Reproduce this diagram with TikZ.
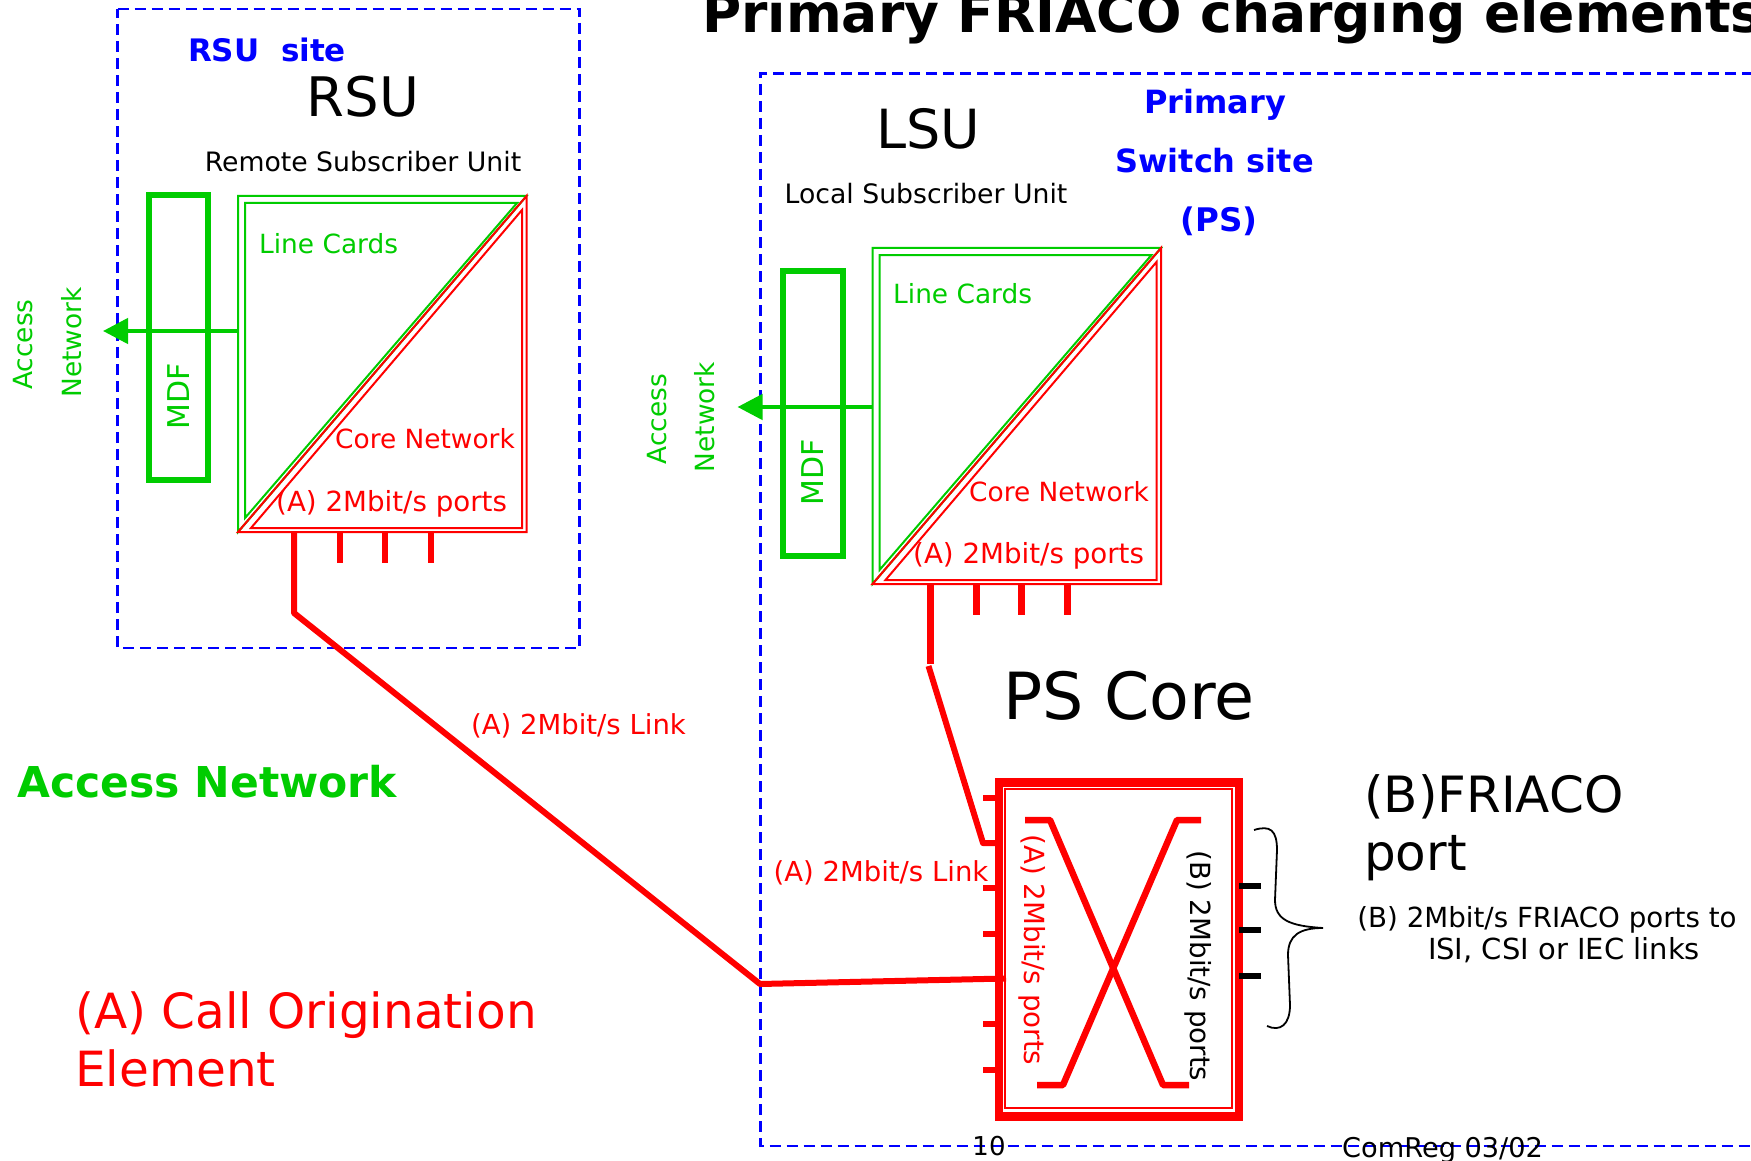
\documentclass[tikz,border=0pt]{standalone}
\usepackage{fontspec}
\setmainfont{DejaVu Sans}
\usetikzlibrary{arrows.meta}
\definecolor{grn}{RGB}{0,204,0}
\definecolor{rd}{RGB}{255,0,0}
\definecolor{bl}{RGB}{0,0,255}
\newcommand\fs[1]{\fontsize{#1}{#1}\selectfont}
\tikzset{
  lbl/.style={inner sep=0pt,anchor=base},
  lblw/.style={inner sep=0pt,anchor=base west},
  site/.style={draw=bl,line width=2.5pt,dash pattern=on 11pt off 6pt},
  thin green/.style={draw=grn,line width=2pt},
  thin red/.style={draw=rd,line width=2pt},
  mdfbox/.style={draw=grn,line width=6pt,minimum width=59.5pt,minimum height=285pt,inner sep=0pt},
  feed/.style={draw=grn,line width=4.5pt,-{Triangle[length=25pt,width=25pt]}},
  port/.style={draw=rd,line width=6.5pt},
  link/.style={draw=rd,line width=6pt,line join=round},
  bport/.style={draw=black,line width=6pt},
  cross/.style={draw=rd,line width=6.5pt,line join=bevel},
  sm/.style={font=\fs{26.4}},
}
\newcommand\subunit[4]{% prefix, MDF centre y, feed y, extra shift of the ports
  \coordinate (#1nw) at (238,196);
  \coordinate (#1ne) at (526.5,196);
  \coordinate (#1sw) at (238,532);
  \coordinate (#1se) at (526.5,532);
  \coordinate (#1inw) at (245,203);
  \coordinate (#1ine) at (517,203);
  \coordinate (#1isw) at (245,518);
  \coordinate (#1jsw) at (251,528);
  \coordinate (#1jse) at (522,528);
  \coordinate (#1jne) at (522,210);
  \draw[thin green,line join=miter] (#1sw) -- (#1nw) -- (#1ne) -- cycle;
  \draw[thin green] (#1isw) -- (#1inw) -- (#1ine) -- cycle;
  \draw[thin red] (#1sw) -- (#1se) -- (#1ne) -- cycle;
  \draw[thin red] (#1jsw) -- (#1jse) -- (#1jne) -- cycle;
  \node[mdfbox] (#1mdf) at (178.5,#2) {};
  \coordinate (#1from) at (238,#3);
  \coordinate (#1to) at (103,#3);
  \draw[feed] (#1from) -- (#1to);
  \foreach \px/\pn in {294/a,340/b,385/c,431/d}{
    \coordinate (#1p\pn) at (\px+#4,532);
    \coordinate (#1q\pn) at (\px+#4,563);
    \draw[port] (#1p\pn) -- (#1q\pn);
  }
}
\begin{document}
\begin{tikzpicture}[x=1pt,y=-1pt]
\useasboundingbox (0,0) rectangle (1751,1161);
\fill[white] (0,0) rectangle (1751,1161);

% site boxes
\coordinate (rsA) at (117.5,9);
\coordinate (rsB) at (579.5,9);
\coordinate (rsC) at (579.5,648);
\coordinate (rsD) at (117.5,648);
\draw[site] (rsA) -- (rsB) -- (rsC) -- (rsD) -- cycle;
\coordinate (psA) at (760.5,73.5);
\coordinate (psB) at (1770,73.5);
\coordinate (psC) at (1770,1146);
\coordinate (psD) at (760.5,1146);
\draw[site] (psB) -- (psA) -- (psD) -- (psC);

% units
\begin{scope}
  \subunit{r}{337.5}{331}{0}
\end{scope}
\begin{scope}[shift={(634.5,52)}]
  \subunit{l}{361.5}{355}{2}
\end{scope}

% text: title and RSU side
\node[lblw,font=\bfseries\fs{53.5}] (title) at (702,33) {Primary FRIACO charging elements};
\node[lbl,text=bl,font=\bfseries\fs{31}] (rsusite) at (267,62) {RSU\ \ site};
\node[lbl,font=\fs{54.5}] (rsu) at (363,117) {RSU};
\node[lbl,font=\fs{26.7}] (rsuname) at (363,172) {Remote Subscriber Unit};
\node[lblw,text=grn,sm] (rlc) at (259,253.5) {Line Cards};
\node[lblw,text=rd,sm] (rcn) at (335,448.5) {Core Network};
\node[lblw,text=rd,font=\fs{27.7}] (rap) at (276,511) {(A) 2Mbit/s ports};
\node[inner sep=0pt,text=grn,rotate=90,font=\fs{30}] (rmdft) at (179,396) {MDF};
\node[inner sep=0pt,text=grn,rotate=90,sm] (racc) at (23.5,344.5) {Access};
\node[inner sep=0pt,text=grn,rotate=90,sm] (rnet) at (71.5,342.5) {Network};

% text: LSU side
\node[lbl,font=\fs{54}] (lsu) at (928,149) {LSU};
\node[lbl,font=\fs{26.7}] (lsuname) at (926,204) {Local Subscriber Unit};
\node[lbl,text=bl,font=\bfseries\fs{32}] (ps1) at (1215,114) {Primary};
\node[lbl,text=bl,font=\bfseries\fs{32}] (ps2) at (1214.5,173) {Switch site};
\node[lbl,text=bl,font=\bfseries\fs{32.5}] (ps3) at (1219,232) {(PS)};
\node[lblw,text=grn,sm] (llc) at (893,303) {Line Cards};
\node[lblw,text=rd,sm] (lcn) at (969,501) {Core Network};
\node[lblw,text=rd,font=\fs{27.7}] (lap) at (913,563) {(A) 2Mbit/s ports};
\node[inner sep=0pt,text=grn,rotate=90,font=\fs{30}] (lmdft) at (813,472) {MDF};
\node[inner sep=0pt,text=grn,rotate=90,sm] (lacc) at (657,419) {Access};
\node[inner sep=0pt,text=grn,rotate=90,sm] (lnet) at (705,417) {Network};

% other labels
\node[lbl,font=\fs{65}] (core) at (1129,719) {PS Core};
\node[lblw,font=\fs{50}] (f1) at (1364,812) {(B)FRIACO};
\node[lblw,font=\fs{50}] (f2) at (1364,870) {port};
\node[lbl,font=\fs{27.7}] (fd1) at (1547,927.5) {(B) 2Mbit/s FRIACO ports to};
\node[lbl,font=\fs{29}] (fd2) at (1564,959.5) {ISI, CSI or IEC links};
\node[lbl,text=rd,font=\fs{27.5}] (link1) at (578.5,734) {(A) 2Mbit/s Link};
\node[lbl,text=rd,font=\fs{27.5}] (link2) at (881,881) {(A) 2Mbit/s Link};
\node[lblw,text=grn,font=\bfseries\fs{42.5}] (an) at (17,797) {Access Network};
\node[lblw,text=rd,font=\fs{48.5}] (co1) at (75,1028) {(A) Call Origination};
\node[lblw,text=rd,font=\fs{48.5}] (co2) at (75,1086) {Element};

% PS core box
\node[draw=rd,line width=8.5pt,minimum width=240pt,minimum height=334pt,inner sep=0pt] (cbox) at (1119,949.5) {};
\node[draw=rd,line width=2pt,minimum width=227pt,minimum height=319pt,inner sep=0pt] (cin) at (1118.5,948.5) {};

% left stubs
\foreach \sy/\sn in {798/a,843/b,888/c,934/d,979/e,1024/f,1070/g}{
  \coordinate (s\sn) at (983,\sy);
  \coordinate (t\sn) at (1001,\sy);
  \draw[draw=rd,line width=5.5pt] (s\sn) -- (t\sn);
}
% right stubs
\foreach \sy/\sn in {886/a,930/b,976/c}{
  \coordinate (u\sn) at (1239,\sy);
  \coordinate (v\sn) at (1261,\sy);
  \draw[bport] (u\sn) -- (v\sn);
}
% cross
\coordinate (xa1) at (1025,820);
\coordinate (xa2) at (1050,820);
\coordinate (xa3) at (1163,1085);
\coordinate (xa4) at (1189,1085);
\coordinate (xb1) at (1037,1085);
\coordinate (xb2) at (1063,1085);
\coordinate (xb3) at (1177,820);
\coordinate (xb4) at (1201,820);
\draw[cross] (xa1) -- (xa2) -- (xa3) -- (xa4);
\draw[cross] (xb1) -- (xb2) -- (xb3) -- (xb4);

\node[lbl,text=rd,rotate=-90,font=\fs{27.7}] (ca) at (1024,950) {(A) 2Mbit/s ports};
\node[lbl,rotate=-90,font=\fs{27.7}] (cb) at (1190,966) {(B) 2Mbit/s ports};

% links
\coordinate (k1) at (294,613);
\coordinate (k2) at (760,984);
\coordinate (k3) at (1006,978.5);
\draw[link] (rpa) -- (k1) -- (k2) -- (k3);
\coordinate (k4) at (930.5,664);
\coordinate (k5) at (983,843);
\draw[port] (lpa) -- (k4);
\draw[link] ([shift={(-2,2)}]k4) -- (k5) -- (tb);

% brace
\coordinate (b1) at (1254,830);
\coordinate (b2) at (1323,928);
\coordinate (b3) at (1267,1026);
\draw[black,line width=1.8pt] (b1) .. controls (1270,825) and (1277,830) .. (1277,850)
  -- (1275,900) .. controls (1275,920) and (1290,926) .. (b2)
  .. controls (1300,928) and (1288,935) .. (1288,955)
  -- (1290,1005) .. controls (1290,1025) and (1280,1032) .. (b3);

% footer
\node[lbl,font=\fs{26}] (pg) at (989,1155) {10};
\node[lblw,font=\fs{27.2}] (cr) at (1342,1157) {ComReg 03/02};
\end{tikzpicture}
\end{document}
